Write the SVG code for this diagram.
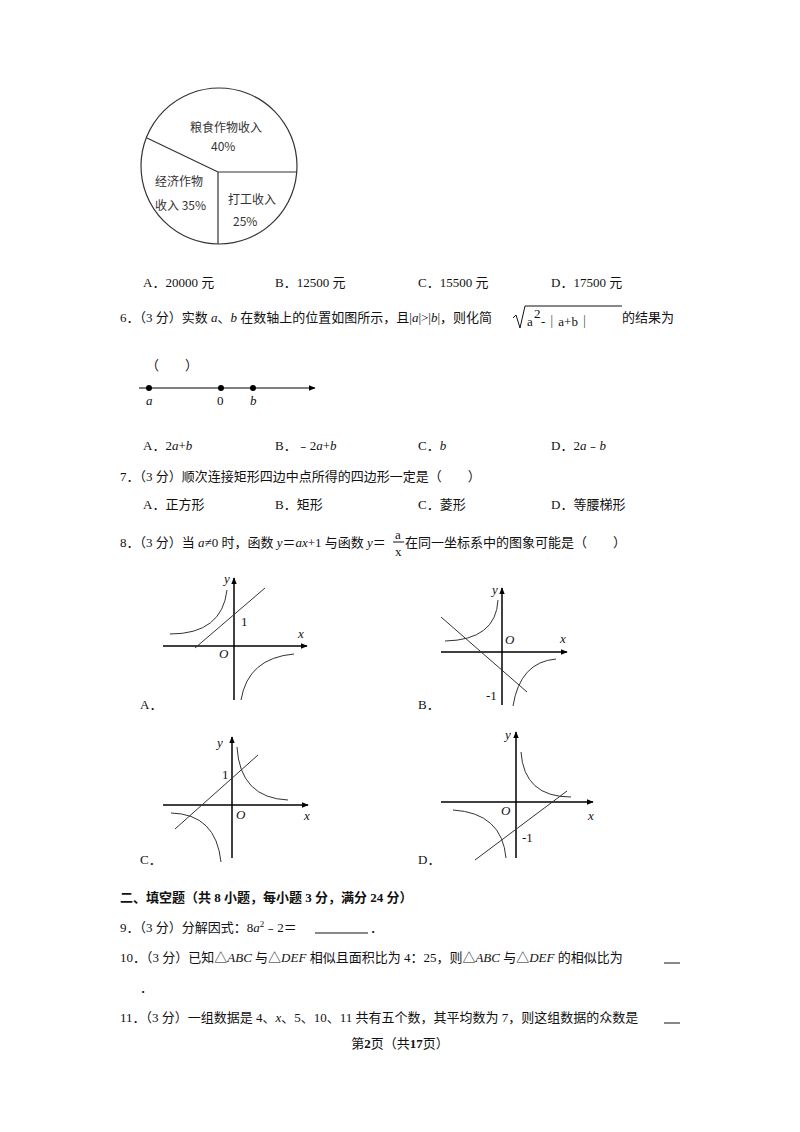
<svg xmlns="http://www.w3.org/2000/svg" width="800" height="1132" viewBox="0 0 800 1132">
<defs>
<marker id="ar" viewBox="0 0 10 10" refX="9" refY="5" markerWidth="7" markerHeight="7" orient="auto" markerUnits="userSpaceOnUse"><path d="M0,1 L10,5 L0,9 Z" fill="#000"/></marker>
</defs>
<style>
text{font-family:"Liberation Serif","Noto Sans CJK SC",serif;font-size:13px;fill:#111}
.s{font-family:"Noto Sans CJK SC",sans-serif;font-size:12px;fill:#333}
.i{font-style:italic}
.b{font-weight:bold}
.ax{stroke:#000;stroke-width:1.5;fill:none;marker-end:url(#ar)}
.c{stroke:#333;stroke-width:1;fill:none}
</style>
<rect width="800" height="1132" fill="#fff"/>
<g id="pie">
<circle cx="219" cy="166" r="78" fill="none" stroke="#333" stroke-width="1.2"/>
<path d="M218,172 L297,172 M218,172 L218,244 M218,172 L147,138" stroke="#333" stroke-width="1.2" fill="none"/>
<text class="s" x="190" y="132">粮食作物收入</text>
<text class="s" x="211" y="151">40%</text>
<text class="s" x="155" y="186">经济作物</text>
<text class="s" x="155" y="210">收入 35%</text>
<text class="s" x="228" y="204">打工收入</text>
<text class="s" x="233" y="226">25%</text>
</g>
<g id="q5">
<text x="143" y="287">A．20000 元</text><text x="275" y="287">B．12500 元</text><text x="418" y="287">C．15500 元</text><text x="551" y="287">D．17500 元</text>
</g>
<g id="q6">
<text x="120" y="322">6．（3 分）实数 <tspan class="i">a</tspan>、<tspan class="i">b</tspan> 在数轴上的位置如图所示，且|<tspan class="i">a</tspan>|&gt;|<tspan class="i">b</tspan>|，则化简</text>
<path d="M513,318 L516,315 L520,328 L525,306 L622,306" stroke="#111" fill="none"/>
<text x="527" y="326" font-size="12">a</text><text x="534" y="318" font-size="10">2</text>
<text x="541" y="326" font-size="12">-｜a+b｜</text>
<text x="622" y="322">的结果为</text>
<text x="146" y="370">（　　）</text>
<line x1="139" y1="388" x2="315" y2="388" class="ax" stroke-width="1.3" style="stroke:#555"/>
<circle cx="149" cy="388" r="3"/><circle cx="221" cy="388" r="3"/><circle cx="253" cy="388" r="3"/>
<text class="i" x="146" y="405">a</text><text x="217" y="405">0</text><text class="i" x="250" y="405">b</text>
<text x="143" y="450">A．2<tspan class="i">a</tspan>+<tspan class="i">b</tspan></text><text x="275" y="450">B．﹣2<tspan class="i">a</tspan>+<tspan class="i">b</tspan></text><text x="418" y="450">C．<tspan class="i">b</tspan></text><text x="551" y="450">D．2<tspan class="i">a</tspan>﹣<tspan class="i">b</tspan></text>
</g>
<g id="q7">
<text x="120" y="481">7．（3 分）顺次连接矩形四边中点所得的四边形一定是（　　）</text>
<text x="143" y="509">A．正方形</text><text x="275" y="509">B．矩形</text><text x="418" y="509">C．菱形</text><text x="551" y="509">D．等腰梯形</text>
</g>
<g id="q8">
<text x="120" y="547">8．（3 分）当 <tspan class="i">a</tspan>≠0 时，函数 <tspan class="i">y</tspan>＝<tspan class="i">ax</tspan>+1 与函数 <tspan class="i">y</tspan>＝</text>
<text x="395" y="539" font-size="11">a</text><line x1="393" y1="542" x2="404" y2="542" stroke="#111"/><text x="395" y="556" font-size="11">x</text>
<text x="405" y="547">在同一坐标系中的图象可能是（　　）</text>
</g>
<g id="graphA">
<line x1="234" y1="700" x2="234" y2="578" class="ax"/><line x1="163" y1="646" x2="307" y2="646" class="ax"/>
<line x1="195" y1="648" x2="265" y2="588" class="c"/>
<path d="M170,634 Q222,634 227,590" class="c"/><path d="M241,700 Q248,658 294,654" class="c"/>
<text class="i" x="224" y="583">y</text><text x="241" y="626">1</text><text class="i" x="298" y="638">x</text><text class="i" x="219" y="658">O</text>
<text x="140" y="709">A．</text>
</g>
<g id="graphB">
<line x1="502" y1="705" x2="502" y2="588" class="ax"/><line x1="441" y1="652" x2="567" y2="652" class="ax"/>
<line x1="441" y1="617" x2="527" y2="692" class="c"/>
<path d="M445,641 Q496,640 498,600" class="c"/><path d="M513,706 Q520,662 556,659" class="c"/>
<text class="i" x="492" y="594">y</text><text class="i" x="505" y="644">O</text><text class="i" x="560" y="643">x</text><text x="486" y="700">-1</text>
<text x="418" y="709">B．</text>
</g>
<g id="graphC">
<line x1="232" y1="858" x2="232" y2="737" class="ax"/><line x1="163" y1="805" x2="308" y2="805" class="ax"/>
<line x1="175" y1="829" x2="258" y2="755" class="c"/>
<path d="M237,747 Q240,798 288,800" class="c"/><path d="M171,813 Q216,814 221,862" class="c"/>
<text class="i" x="217" y="747">y</text><text x="222" y="779">1</text><text class="i" x="236" y="819">O</text><text class="i" x="304" y="820">x</text>
<text x="140" y="864">C．</text>
</g>
<g id="graphD">
<line x1="516" y1="858" x2="516" y2="732" class="ax"/><line x1="441" y1="802" x2="593" y2="802" class="ax"/>
<line x1="475" y1="860" x2="567" y2="791" class="c"/>
<path d="M521,752 Q524,797 571,797" class="c"/><path d="M453,810 Q502,813 506,858" class="c"/>
<text class="i" x="505" y="739">y</text><text class="i" x="501" y="815">O</text><text class="i" x="588" y="820">x</text><text x="522" y="842">-1</text>
<text x="418" y="864">D．</text>
</g>
<g id="sec2">
<text class="b" x="120" y="902">二、填空题（共 8 小题，每小题 3 分，满分 24 分）</text>
<text x="120" y="932">9．（3 分）分解因式：8<tspan class="i">a</tspan><tspan font-size="9" dy="-5">2</tspan><tspan dy="5">﹣2＝</tspan></text>
<line x1="315" y1="933" x2="368" y2="933" stroke="#111"/><text x="370" y="932">．</text>
<text x="120" y="962">10．（3 分）已知△<tspan class="i">ABC</tspan> 与△<tspan class="i">DEF</tspan> 相似且面积比为 4：25，则△<tspan class="i">ABC</tspan> 与△<tspan class="i">DEF</tspan> 的相似比为</text>
<line x1="664" y1="963" x2="680" y2="963" stroke="#111"/>
<text x="140" y="992">．</text>
<text x="120" y="1022">11．（3 分）一组数据是 4、<tspan class="i">x</tspan>、5、10、11 共有五个数，其平均数为 7，则这组数据的众数是</text>
<line x1="664" y1="1023" x2="680" y2="1023" stroke="#111"/>
<text x="400" y="1048" text-anchor="middle">第<tspan class="b">2</tspan>页（共<tspan class="b">17</tspan>页）</text>
</g>
</svg>
